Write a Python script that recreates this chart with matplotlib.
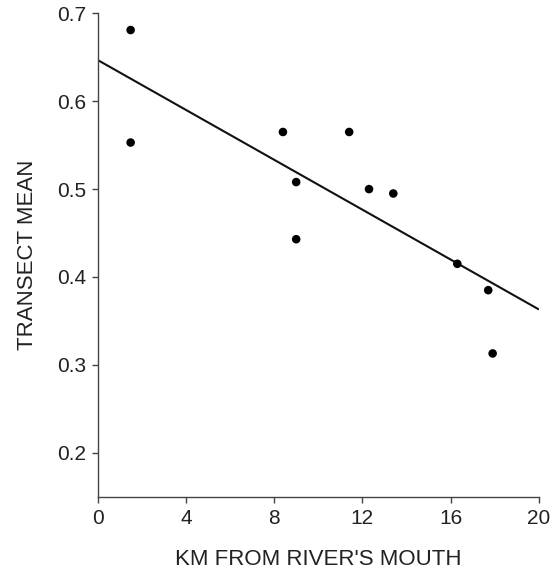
import matplotlib
matplotlib.use("Agg")
import matplotlib.pyplot as plt
import numpy as np

plt.rcParams['font.family'] = ['Liberation Sans', 'DejaVu Sans']

km = [1.5, 1.5, 8.4, 9.0, 9.0, 11.4, 12.3, 13.4, 16.3, 17.7, 17.9]
transect_mean = [0.681, 0.553, 0.565, 0.508, 0.443, 0.565, 0.500, 0.495, 0.415, 0.385, 0.313]
fit_x = [0, 20]
fit_y = [0.647, 0.363]
xticks = [0, 4, 8, 12, 16, 20]
yticks = [0.2, 0.3, 0.4, 0.5, 0.6, 0.7]

fig = plt.figure(figsize=(5.56, 5.70), dpi=100)
ax = fig.add_axes([0.1754, 0.1286, 0.7940, 0.8480])

ax.plot(fit_x, fit_y, color='#111111', lw=1.5, solid_capstyle='butt', zorder=2)
ax.scatter(km, transect_mean, s=38, color='black', edgecolors='none', zorder=3)

ax.set_xlim(0, 20)
ax.set_ylim(0.15, 0.7)
ax.set_xticks(xticks)
ax.set_xticklabels([str(t) for t in xticks])
ax.set_yticks(yticks)
ax.set_yticklabels([f"{t:.1f}" for t in yticks])

for s in ['top', 'right']:
    ax.spines[s].set_visible(False)
for s in ['left', 'bottom']:
    ax.spines[s].set_color('#444444')
    ax.spines[s].set_linewidth(1.0)

ax.tick_params(axis='both', direction='out', length=4, width=1.0, color='#444444',
               labelsize=15, labelcolor='#222222')
ax.tick_params(axis='x', pad=5)
ax.tick_params(axis='y', pad=4)

ax.set_xlabel("KM FROM RIVER'S MOUTH", fontsize=16, color='#222222', labelpad=15)
ax.set_ylabel("TRANSECT MEAN", fontsize=16, color='#222222', labelpad=14)

fig.savefig("out.png", dpi=100)
